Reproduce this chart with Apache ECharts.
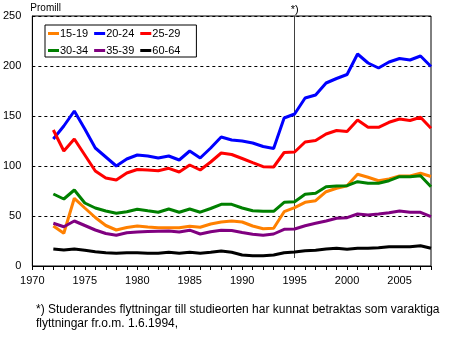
<!DOCTYPE html>
<html>
<head>
<meta charset="utf-8">
<script src="https://cdn.jsdelivr.net/npm/echarts@6/dist/echarts.min.js"></script>
<style>
html,body{margin:0;padding:0;background:#fff;}
#c{width:464px;height:340px;}
</style>
</head>
<body>
<div id="c"></div>
<script>
var years = [1972,1973,1974,1975,1976,1977,1978,1979,1980,1981,1982,1983,1984,1985,1986,1987,1988,1989,1990,1991,1992,1993,1994,1995,1996,1997,1998,1999,2000,2001,2002,2003,2004,2005,2006,2007,2008];
var s15_19 = [40,32.7,67.7,58,48.5,40.5,36,38.5,40,39,38.2,38.2,38.2,39.8,38.8,42,44,45,44,40,37.3,37.7,54.3,58.3,63.7,65.3,74.3,77.7,80.3,91.7,88.7,85.3,87,90,90,92.7,89.5];
var s20_24 = [127,140,155,137,118,109,100,107,111,110,108,110,106,115,108,118,129,126,125,123,119.5,117.5,148,152,168,171,183,187.5,191.5,212,203,198,204,207.5,206,210,199.5];
var s25_29 = [136,115,127,111,95,88,86,93,96.5,96,95.3,97.7,94,101,96,104,113,111.5,107.5,103.3,99.3,99,113.5,114,124,125.5,132,135.5,134.5,146,138.7,138.7,143.7,147,145.5,148.7,137.7];
var s30_34 = [72,67,76,63,58,55,52.7,54.3,56.7,55.2,53.8,57,53.8,57,53.8,57.5,61.7,61.7,58,55.3,54.7,54.7,63.7,64.3,71.7,72.7,79.3,80,80.3,84.3,82.7,82.7,85.3,89.3,89.3,90.3,79.3];
var s35_39 = [42.7,39.3,45,40.5,36,32.5,30.8,33.3,34,34.5,34.8,35,34,35.8,32,34.3,35.8,35.5,33.5,31.7,30.7,32,36.7,37,40.3,42.7,45,47.7,48.3,52,51,52,53.3,55,53.7,53.7,49.3];
var s60_64 = [17,16,17,15.7,14.3,13.3,12.7,13.3,13.3,12.7,12.7,13.7,12.7,13.7,12.7,13.7,15,13.7,11,10.3,10.3,11,13.3,14,15.3,15.7,17,17.7,16.7,17.7,17.7,18.3,19.3,19.3,19.3,20.3,17.7];
var seriesNames = ['15-19','20-24','25-29','30-34','35-39','60-64'];
var seriesData = [s15_19, s20_24, s25_29, s30_34, s35_39, s60_64];
var colors = ['#FF8000','#0000FF','#FF0000','#008000','#800080','#000000'];
var yTicks = [0,50,100,150,200,250];
var xLabelYears = [1970,1975,1980,1985,1990,1995,2000,2005];
var markYear = 1995;
var footnote = '*) Studerandes flyttningar till studieorten har kunnat betraktas som varaktiga\nflyttningar fr.o.m. 1.6.1994,';

var FONT = '"Liberation Sans", Arial, sans-serif';
function pairs(arr){ return arr.map(function(v,i){ return [years[i], v]; }); }

var series = seriesNames.map(function(n, k){
  return {
    name: n, type: 'line', data: pairs(seriesData[k]),
    symbol: 'none', smooth: false, z: 3,
    lineStyle: {color: colors[k], width: 3},
    itemStyle: {color: colors[k]}
  };
});
series[0].markLine = {
  silent: true, symbol: ['none','none'], z: 1,
  lineStyle: {color: '#404040', width: 1, type: 'solid'},
  label: {show: true, position: 'end', formatter: '*)', color: '#000', fontFamily: FONT, fontSize: 11, distance: 1},
  data: [[{coord: [markYear, 8]}, {coord: [markYear, 250]}]]
};

var chart = echarts.init(document.getElementById('c'), null, {renderer: 'canvas'});
chart.setOption({
  animation: false,
  backgroundColor: '#fff',
  color: colors,
  textStyle: {fontFamily: FONT},
  title: {
    text: footnote, left: 31, top: 298,
    textStyle: {fontFamily: FONT, fontSize: 12, fontWeight: 'normal', color: '#000', lineHeight: 14}
  },
  legend: {
    left: 45, top: 25, width: 140,
    orient: 'horizontal',
    backgroundColor: '#fff', borderColor: '#000', borderWidth: 1,
    padding: [3, 16, 1, 3],
    itemGap: 6, itemWidth: 11, itemHeight: 3,
    icon: 'rect',
    textStyle: {fontFamily: FONT, fontSize: 11, color: '#000', lineHeight: 11, padding: [0,0,0,-4]},
    data: seriesNames
  },
  grid: {left: 29, right: 33, top: 16, bottom: 74, show: true, borderColor: '#000', borderWidth: 1, backgroundColor: 'transparent'},
  xAxis: {
    type: 'value', min: 1970, max: 2008, interval: 1,
    axisLine: {show: true, lineStyle: {color: '#000', width: 1}},
    axisTick: {show: true, length: 4, lineStyle: {color: '#000'}},
    axisLabel: {
      color: '#000', fontFamily: FONT, fontSize: 11, margin: 9,
      showMinLabel: true, showMaxLabel: true,
      formatter: function(v){ return xLabelYears.indexOf(v) >= 0 ? String(v) : ''; }
    },
    splitLine: {show: false}
  },
  yAxis: {
    type: 'value', min: yTicks[0], max: yTicks[yTicks.length-1], interval: 50,
    name: 'Promill', nameLocation: 'end', nameGap: 3,
    nameTextStyle: {color: '#000', fontFamily: FONT, fontSize: 10, align: 'left', verticalAlign: 'bottom', padding: [0,0,0,-2]},
    axisLine: {show: true, lineStyle: {color: '#000', width: 1}},
    axisTick: {show: false},
    axisLabel: {color: '#000', fontFamily: FONT, fontSize: 11, margin: 11},
    splitLine: {show: true, lineStyle: {color: '#000', width: 1, type: [3,3]}}
  },
  series: series
});
</script>
</body>
</html>
